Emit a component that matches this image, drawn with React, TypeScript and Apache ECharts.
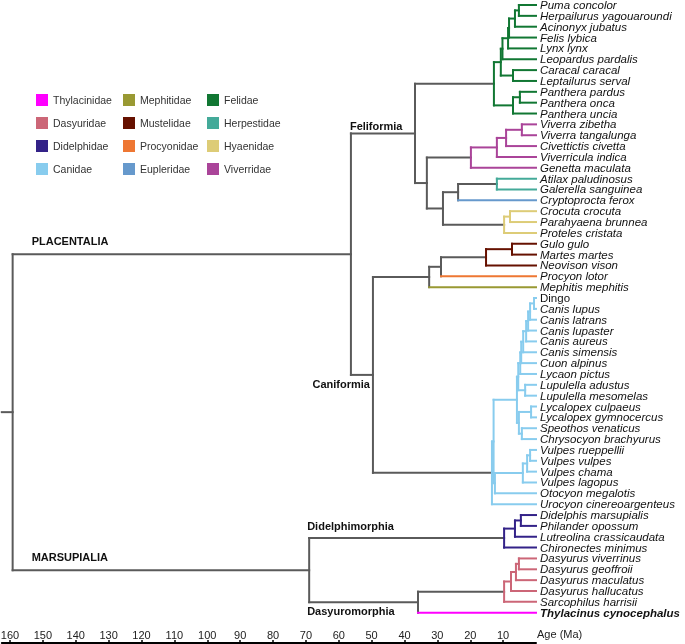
import { useEffect, useRef } from 'react';
import * as echarts from 'echarts';

// ---------- data ----------
const FAMILY_NAMES = [
  'Thylacinidae', 'Dasyuridae', 'Didelphidae', 'Canidae',
  'Mephitidae', 'Mustelidae', 'Procyonidae', 'Eupleridae',
  'Felidae', 'Herpestidae', 'Hyaenidae', 'Viverridae',
];
const FAMILY_COLORS = [
  '#FF00FF', '#CC6677', '#332288', '#88CCEE',
  '#999933', '#661100', '#EE7733', '#6699CC',
  '#117733', '#44AA99', '#DDCC77', '#AA4499',
];
const LEGEND_COLUMNS = [
  ['Thylacinidae', 'Dasyuridae', 'Didelphidae', 'Canidae'],
  ['Mephitidae', 'Mustelidae', 'Procyonidae', 'Eupleridae'],
  ['Felidae', 'Herpestidae', 'Hyaenidae', 'Viverridae'],
];

// leaves top to bottom: [name, family]
const LEAVES: [string, string][] = [
  ['Puma concolor', 'Felidae'],
  ['Herpailurus yagouaroundi', 'Felidae'],
  ['Acinonyx jubatus', 'Felidae'],
  ['Felis lybica', 'Felidae'],
  ['Lynx lynx', 'Felidae'],
  ['Leopardus pardalis', 'Felidae'],
  ['Caracal caracal', 'Felidae'],
  ['Leptailurus serval', 'Felidae'],
  ['Panthera pardus', 'Felidae'],
  ['Panthera onca', 'Felidae'],
  ['Panthera uncia', 'Felidae'],
  ['Viverra zibetha', 'Viverridae'],
  ['Viverra tangalunga', 'Viverridae'],
  ['Civettictis civetta', 'Viverridae'],
  ['Viverricula indica', 'Viverridae'],
  ['Genetta maculata', 'Viverridae'],
  ['Atilax paludinosus', 'Herpestidae'],
  ['Galerella sanguinea', 'Herpestidae'],
  ['Cryptoprocta ferox', 'Eupleridae'],
  ['Crocuta crocuta', 'Hyaenidae'],
  ['Parahyaena brunnea', 'Hyaenidae'],
  ['Proteles cristata', 'Hyaenidae'],
  ['Gulo gulo', 'Mustelidae'],
  ['Martes martes', 'Mustelidae'],
  ['Neovison vison', 'Mustelidae'],
  ['Procyon lotor', 'Procyonidae'],
  ['Mephitis mephitis', 'Mephitidae'],
  ['Dingo', 'Canidae'],
  ['Canis lupus', 'Canidae'],
  ['Canis latrans', 'Canidae'],
  ['Canis lupaster', 'Canidae'],
  ['Canis aureus', 'Canidae'],
  ['Canis simensis', 'Canidae'],
  ['Cuon alpinus', 'Canidae'],
  ['Lycaon pictus', 'Canidae'],
  ['Lupulella adustus', 'Canidae'],
  ['Lupulella mesomelas', 'Canidae'],
  ['Lycalopex culpaeus', 'Canidae'],
  ['Lycalopex gymnocercus', 'Canidae'],
  ['Speothos venaticus', 'Canidae'],
  ['Chrysocyon brachyurus', 'Canidae'],
  ['Vulpes rueppellii', 'Canidae'],
  ['Vulpes vulpes', 'Canidae'],
  ['Vulpes chama', 'Canidae'],
  ['Vulpes lagopus', 'Canidae'],
  ['Otocyon megalotis', 'Canidae'],
  ['Urocyon cinereoargenteus', 'Canidae'],
  ['Didelphis marsupialis', 'Didelphidae'],
  ['Philander opossum', 'Didelphidae'],
  ['Lutreolina crassicaudata', 'Didelphidae'],
  ['Chironectes minimus', 'Didelphidae'],
  ['Dasyurus viverrinus', 'Dasyuridae'],
  ['Dasyurus geoffroii', 'Dasyuridae'],
  ['Dasyurus maculatus', 'Dasyuridae'],
  ['Dasyurus hallucatus', 'Dasyuridae'],
  ['Sarcophilus harrisii', 'Dasyuridae'],
  ['Thylacinus cynocephalus', 'Thylacinidae'],
];

// internal nodes: [id, age (Ma), children top to bottom]
const NODES: [string, number, string[]][] = [
  ['n_puma', 5.2, ['Puma concolor', 'Herpailurus yagouaroundi']],
  ['n_acin', 6.4, ['n_puma', 'Acinonyx jubatus']],
  ['n_felis', 8.2, ['n_acin', 'Felis lybica']],
  ['n_lynx', 8.5, ['n_felis', 'Lynx lynx']],
  ['n_leop', 10.2, ['n_lynx', 'Leopardus pardalis']],
  ['n_cara', 7.0, ['Caracal caracal', 'Leptailurus serval']],
  ['Felinae', 10.7, ['n_leop', 'n_cara']],
  ['n_pard', 4.9, ['Panthera pardus', 'Panthera onca']],
  ['Panthera', 7.0, ['n_pard', 'Panthera uncia']],
  ['Felidae', 12.8, ['Felinae', 'Panthera']],
  ['n_viv', 4.3, ['Viverra zibetha', 'Viverra tangalunga']],
  ['n_civ', 9.1, ['n_viv', 'Civettictis civetta']],
  ['n_vivc', 11.9, ['n_civ', 'Viverricula indica']],
  ['Viverridae', 19.8, ['n_vivc', 'Genetta maculata']],
  ['Herpestidae', 11.9, ['Atilax paludinosus', 'Galerella sanguinea']],
  ['n_herpeup', 23.7, ['Herpestidae', 'Cryptoprocta ferox']],
  ['n_croc', 7.9, ['Crocuta crocuta', 'Parahyaena brunnea']],
  ['Hyaenidae', 9.7, ['n_croc', 'Proteles cristata']],
  ['n_herphy', 28.3, ['n_herpeup', 'Hyaenidae']],
  ['Viverroidea', 33.2, ['Viverridae', 'n_herphy']],
  ['Feliformia', 36.8, ['Felidae', 'Viverroidea']],
  ['n_gulo', 7.3, ['Gulo gulo', 'Martes martes']],
  ['Mustelidae', 15.2, ['n_gulo', 'Neovison vison']],
  ['n_mustproc', 28.9, ['Mustelidae', 'Procyon lotor']],
  ['Musteloidea', 32.5, ['n_mustproc', 'Mephitis mephitis']],
  ['n_dingo', 0.6, ['Dingo', 'Canis lupus']],
  ['n_latr', 1.8, ['n_dingo', 'Canis latrans']],
  ['n_lupa', 2.4, ['n_latr', 'Canis lupaster']],
  ['n_aur', 3.0, ['n_lupa', 'Canis aureus']],
  ['n_sim', 3.9, ['n_aur', 'Canis simensis']],
  ['n_cuon', 4.5, ['n_sim', 'Cuon alpinus']],
  ['n_lyca', 4.8, ['n_cuon', 'Lycaon pictus']],
  ['n_lupu', 3.3, ['Lupulella adustus', 'Lupulella mesomelas']],
  ['n_wolf', 5.4, ['n_lyca', 'n_lupu']],
  ['n_lyco', 1.5, ['Lycalopex culpaeus', 'Lycalopex gymnocercus']],
  ['n_speo', 4.3, ['Speothos venaticus', 'Chrysocyon brachyurus']],
  ['n_sa', 5.2, ['n_lyco', 'n_speo']],
  ['Canini', 5.8, ['n_wolf', 'n_sa']],
  ['n_vrv', 1.8, ['Vulpes rueppellii', 'Vulpes vulpes']],
  ['n_vch', 2.7, ['n_vrv', 'Vulpes chama']],
  ['Vulpes', 4.0, ['n_vch', 'Vulpes lagopus']],
  ['Vulpini', 12.5, ['Vulpes', 'Otocyon megalotis']],
  ['Caninae', 12.9, ['Canini', 'Vulpini']],
  ['Canidae', 13.4, ['Caninae', 'Urocyon cinereoargenteus']],
  ['Caniformia', 49.6, ['Musteloidea', 'Canidae']],
  ['Carnivora', 56.3, ['Feliformia', 'Caniformia']],
  ['n_didph', 4.6, ['Didelphis marsupialis', 'Philander opossum']],
  ['n_lutr', 6.4, ['n_didph', 'Lutreolina crassicaudata']],
  ['Didelphidae', 9.7, ['n_lutr', 'Chironectes minimus']],
  ['n_dvg', 5.2, ['Dasyurus viverrinus', 'Dasyurus geoffroii']],
  ['n_dmac', 6.1, ['n_dvg', 'Dasyurus maculatus']],
  ['n_dhal', 7.6, ['n_dmac', 'Dasyurus hallucatus']],
  ['Dasyuridae', 9.7, ['n_dhal', 'Sarcophilus harrisii']],
  ['Dasyuromorphia', 35.9, ['Dasyuridae', 'Thylacinus cynocephalus']],
  ['Marsupialia', 69.0, ['Didelphidae', 'Dasyuromorphia']],
  ['Root', 159.2, ['Carnivora', 'Marsupialia']],
];
const ROOT_ID = 'Root';
const ROOT_STEM_AGE = 162.5;

// clade labels: [text, parent node, child node]
const CLADE_LABELS: [string, string, string][] = [
  ['PLACENTALIA', 'Root', 'Carnivora'],
  ['MARSUPIALIA', 'Root', 'Marsupialia'],
  ['Feliformia', 'Carnivora', 'Feliformia'],
  ['Caniformia', 'Carnivora', 'Caniformia'],
  ['Didelphimorphia', 'Marsupialia', 'Didelphidae'],
  ['Dasyuromorphia', 'Marsupialia', 'Dasyuromorphia'],
];

const AGE_TICKS = [160, 150, 140, 130, 120, 110, 100, 90, 80, 70, 60, 50, 40, 30, 20, 10];
const AXIS_NAME = 'Age (Ma)';
const NON_ITALIC_LEAVES = ['Dingo'];
const BOLD_LEAVES = ['Thylacinus cynocephalus'];

// ---------- styling ----------
const BACKBONE = '#5a5a5a';
const FONT = '"Liberation Sans", Arial, sans-serif';
const AXIS_FONT = '"Liberation Sans Narrow", "Liberation Sans", Arial, sans-serif';
const LABEL_PLACEMENT: Record<string, { dx: number; dy: number; align: string }> = {
  PLACENTALIA: { dx: 19, dy: -13, align: 'left' },
  MARSUPIALIA: { dx: 19, dy: -13, align: 'left' },
  Feliformia: { dx: -1, dy: -7, align: 'left' },
  Caniformia: { dx: 19, dy: 9.5, align: 'right' },
  Didelphimorphia: { dx: -2, dy: -12, align: 'left' },
  Dasyuromorphia: { dx: -2, dy: 9, align: 'left' },
};
const LEGEND_LEFTS = [36, 123, 207];

// ---------- tree layout ----------
type P = { age: number; y: number; fam: string | null; leaf: boolean };
function buildTree() {
  const leafIndex = new Map<string, number>();
  LEAVES.forEach(([n], i) => leafIndex.set(n, i));
  const nodeMap = new Map<string, { age: number; ch: string[] }>();
  NODES.forEach(([id, age, ch]) => nodeMap.set(id, { age, ch }));
  const cache = new Map<string, P>();
  const get = (id: string): P => {
    if (cache.has(id)) return cache.get(id)!;
    let p: P;
    if (leafIndex.has(id)) {
      const i = leafIndex.get(id)!;
      p = { age: 0, y: i, fam: LEAVES[i][1], leaf: true };
    } else {
      const n = nodeMap.get(id)!;
      const cs = n.ch.map(get);
      const y = (cs[0].y + cs[cs.length - 1].y) / 2;
      const fam = cs.every((c) => c.fam !== null && c.fam === cs[0].fam) ? cs[0].fam : null;
      p = { age: n.age, y, fam, leaf: false };
    }
    cache.set(id, p);
    return p;
  };
  const segs: Record<string, number[][]> = { backbone: [] };
  FAMILY_NAMES.forEach((f) => (segs[f] = []));
  const walk = (id: string) => {
    const p = get(id);
    if (p.leaf) return;
    const ch = nodeMap.get(id)!.ch;
    const cps = ch.map(get);
    segs[p.fam ?? 'backbone'].push([p.age, cps[0].y, p.age, cps[cps.length - 1].y]);
    ch.forEach((c, k) => {
      const cp = cps[k];
      const key = cp.leaf || p.fam ? (cp.fam as string) : 'backbone';
      segs[key].push([p.age, cp.y, cp.age, cp.y]);
      walk(c);
    });
  };
  const root = get(ROOT_ID);
  segs.backbone.push([ROOT_STEM_AGE, root.y, root.age, root.y]);
  walk(ROOT_ID);
  return { segs, get };
}

export default function App() {
  const ref = useRef<HTMLDivElement>(null);
  useEffect(() => {
    if (!ref.current) return;
    const chart = echarts.init(ref.current, undefined, { renderer: 'svg' });
    const { segs, get } = buildTree();

    const lineSeries = (name: string, color: string) => ({
      type: 'custom',
      name,
      coordinateSystem: 'cartesian2d',
      silent: true,
      itemStyle: { color },
      encode: { x: [0, 2], y: [1, 3] },
      data: segs[name],
      renderItem: (_p: any, api: any) => {
        const a = api.coord([api.value(0), api.value(1)]);
        const b = api.coord([api.value(2), api.value(3)]);
        return {
          type: 'line',
          shape: { x1: a[0], y1: a[1], x2: b[0], y2: b[1] },
          style: { stroke: color, lineWidth: 2, lineCap: 'square' },
        };
      },
    });

    const series: any[] = [lineSeries('backbone', BACKBONE)];
    FAMILY_NAMES.forEach((f, i) => series.push(lineSeries(f, FAMILY_COLORS[i])));

    series.push({
      type: 'custom',
      name: 'leaves',
      coordinateSystem: 'cartesian2d',
      silent: true,
      data: LEAVES.map(([n], i) => ({ value: [0, i], name: n })),
      renderItem: (params: any, api: any) => {
        const pt = api.coord([api.value(0), api.value(1)]);
        const name = LEAVES[params.dataIndex][0];
        return {
          type: 'text',
          x: pt[0] + 4,
          y: pt[1],
          style: {
            text: name,
            fill: '#111',
            fontSize: 11.5,
            fontFamily: FONT,
            fontStyle: NON_ITALIC_LEAVES.includes(name) ? 'normal' : 'italic',
            fontWeight: BOLD_LEAVES.includes(name) ? 'bold' : 'normal',
            align: 'left',
            verticalAlign: 'middle',
          },
        };
      },
    });

    series.push({
      type: 'custom',
      name: 'clades',
      coordinateSystem: 'cartesian2d',
      silent: true,
      data: CLADE_LABELS.map(([t, par, ch]) => ({ value: [get(par).age, get(ch).y], name: t })),
      renderItem: (params: any, api: any) => {
        const pt = api.coord([api.value(0), api.value(1)]);
        const t = CLADE_LABELS[params.dataIndex][0];
        const pl = LABEL_PLACEMENT[t];
        return {
          type: 'text',
          x: pt[0] + pl.dx,
          y: pt[1] + pl.dy,
          style: {
            text: t,
            fill: '#111',
            fontSize: 11,
            fontWeight: 'bold',
            fontFamily: FONT,
            align: pl.align,
            verticalAlign: 'middle',
          },
        };
      },
    });

    const yMax = 638 / 10.852;

    chart.setOption({
      animation: false,
      textStyle: { fontFamily: FONT },
      grid: { left: 1.8, right: 149, top: 5, bottom: 1, containLabel: false, outerBoundsMode: 'none' },
      legend: LEGEND_COLUMNS.map((col, i) => ({
        data: col,
        orient: 'vertical',
        left: LEGEND_LEFTS[i],
        top: 94,
        padding: 0,
        itemWidth: 12,
        itemHeight: 12,
        itemGap: 11,
        icon: 'rect',
        selectedMode: false,
        textStyle: { fontSize: 10.5, color: '#333', fontFamily: FONT },
      })),
      xAxis: {
        type: 'value',
        inverse: true,
        min: 0,
        max: ROOT_STEM_AGE,
        interval: 10,
        position: 'bottom',
        splitLine: { show: false },
        axisLine: { show: true, onZero: false, lineStyle: { color: '#000', width: 2 } },
        axisTick: { show: true, inside: true, length: 3, customValues: AGE_TICKS, lineStyle: { color: '#000', width: 1.5 } },
        axisLabel: {
          inside: true,
          margin: 3,
          customValues: AGE_TICKS,
          fontSize: 11,
          color: '#222',
          fontFamily: AXIS_FONT,
        },
        name: AXIS_NAME,
        nameLocation: 'start',
        nameGap: 1,
        nameTextStyle: {
          fontSize: 11,
          color: '#222',
          align: 'left',
          verticalAlign: 'bottom',
          padding: [0, 0, 4, 0],
          fontFamily: AXIS_FONT,
        },
      },
      yAxis: { type: 'value', inverse: true, min: 0, max: yMax, show: false },
      series,
    });
    return () => chart.dispose();
  }, []);
  return <div ref={ref} style={{ position: 'fixed', left: 0, top: 0, width: 685, height: 644 }} />;
}
